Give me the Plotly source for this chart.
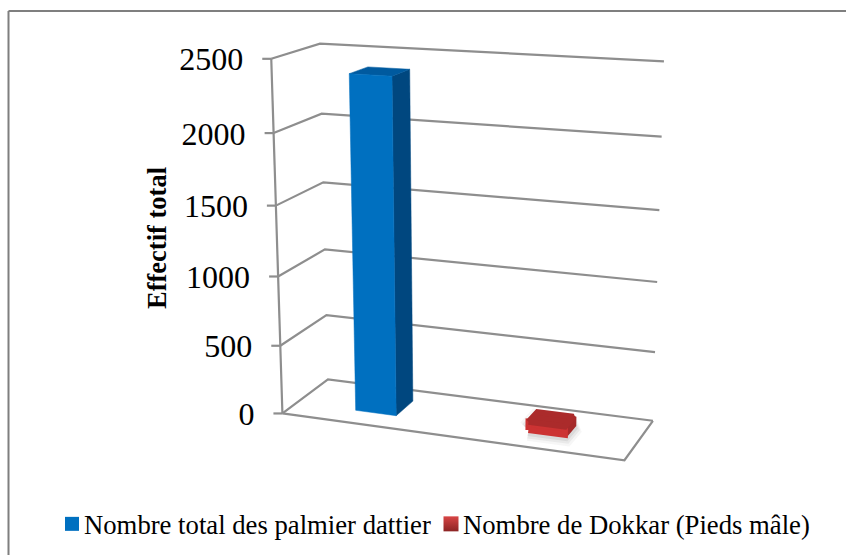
import numpy as np
import plotly.graph_objects as go

# ---- data ----
series_names = ["Nombre total des palmier dattier", "Nombre de Dokkar (Pieds mâle)"]
series_values = [2390, 60]
tick_values = [0, 500, 1000, 1500, 2000, 2500]
axis_title = "Effectif total"
value_max = 2500

# ---- 3-D view: box corners (side, depth, value share) and where they appear ----
view_points = [
    (0, 0, 0, 282, 414.5), (0, 0, .2, 281, 345.7), (0, 0, .4, 278.5, 275), (0, 0, .6, 276, 205.7),
    (0, 0, .8, 273.5, 133), (0, 0, 1, 270.7, 59.3),
    (0, 1, 0, 327.7, 379.3), (0, 1, .2, 326.5, 315), (0, 1, .6, 323.5, 182), (0, 1, .8, 321.5, 114),
    (0, 1, 1, 320, 43.7),
    (1, 1, 0, 652.7, 420.7), (1, 1, .2, 655, 352), (1, 1, .4, 657, 282), (1, 1, .6, 660, 210),
    (1, 1, .8, 661.5, 138), (1, 1, 1, 664, 60.5),
    (1, 0, 0, 624.3, 460.3),
]
rows, rhs = [], []
for X, D, V, u, w in view_points:
    rows.append([X, D, V, 1, 0, 0, 0, 0, -u * X, -u * D, -u * V]); rhs.append(u)
    rows.append([0, 0, 0, 0, X, D, V, 1, -w * X, -w * D, -w * V]); rhs.append(w)
P = np.linalg.lstsq(np.array(rows, float), np.array(rhs, float), rcond=None)[0]


def proj(X, D, value):
    V = value / value_max
    h = P[8] * X + P[9] * D + P[10] * V + 1
    return ((P[0] * X + P[1] * D + P[2] * V + P[3]) / h,
            (P[4] * X + P[5] * D + P[6] * V + P[7]) / h)


def path(points):
    xy = [proj(*p) for p in points]
    return [a for a, _ in xy], [b for _, b in xy]


fig = go.Figure()
GRID = "#8e8e8e"


def line(points, color=GRID, width=2.2):
    x, y = path(points)
    fig.add_trace(go.Scatter(x=x, y=y, mode="lines", line=dict(color=color, width=width),
                             showlegend=False, hoverinfo="skip", cliponaxis=False))


def face(points, color, lw=0.5, linecolor=None):
    x, y = path(points + points[:1])
    fig.add_trace(go.Scatter(x=x, y=y, mode="lines", fill="toself", fillcolor=color,
                             line=dict(color=linecolor or color, width=lw),
                             showlegend=False, hoverinfo="skip", cliponaxis=False))


# walls and floor
for v in tick_values:
    line([(0, 0, v), (0, 1, v), (1, 1, v)])
line([(0, 0, 0), (0, 0, value_max)])
line([(0, 0, 0), (1, 0, 0), (1, 1, 0)])

# tick marks and tick labels
x0, y0 = zip(*[proj(0, 0, v) for v in tick_values])
for v, a, b in zip(tick_values, x0, y0):
    fig.add_trace(go.Scatter(x=[a - 9, a], y=[b, b], mode="lines", line=dict(color=GRID, width=2.2),
                             showlegend=False, hoverinfo="skip", cliponaxis=False))
fig.add_trace(go.Scatter(x=[a - 28 for a in x0], y=[b + 3.5 for b in y0], mode="text",
                         text=[str(v) for v in tick_values], textposition="middle left",
                         textfont=dict(family="Liberation Serif", size=32, color="#000000"),
                         showlegend=False, hoverinfo="skip", cliponaxis=False))

# blue column
xa, xb, da, db = 0.185, 0.31, 0.31, 0.72
h = series_values[0]
face([(xb, da, 0), (xb, db, 0), (xb, db, h), (xb, da, h)], "#00477f")
face([(xa, da, h), (xb, da, h), (xb, db, h), (xa, db, h)], "#005a9f")
face([(xa, da, 0), (xb, da, 0), (xb, da, h), (xa, da, h)], "#0070c0")

# red column with its soft shadow
xa, xb, da, db = 0.695, 0.80, 0.39, 0.65
h = series_values[1]
floor = [(xa, da, 0), (xb, da, 0), (xb, db, 0), (xa, db, 0)]
for w, alpha in [(22, .05), (17, .07), (12, .09)]:
    face(floor, "rgba(70,70,70,%.2f)" % alpha, lw=w, linecolor="rgba(70,70,70,%.2f)" % alpha)
face([(xb, da, 0), (xb, db, 0), (xb, db, h), (xb, da, h)], "#a52a2a", lw=6)
face([(xa, da, 0), (xb, da, 0), (xb, da, h), (xa, da, h)], "#cc3333", lw=6)
face([(xa, da, h), (xb, da, h), (xb, db, h), (xa, db, h)], "#ab2b2b", lw=6)

# legend entries
fig.add_trace(go.Scatter(x=[None], y=[None], mode="markers", name=series_names[0],
                         marker=dict(symbol="square", size=14, color="#0070c0")))
fig.add_trace(go.Scatter(x=[None], y=[None], mode="markers", name=series_names[1],
                         marker=dict(symbol="square", size=15, color="#d84545",
                                     gradient=dict(type="vertical", color="#8c2424"))))

# chart frame (top and left edges only)
fig.add_shape(type="line", xref="paper", yref="paper", x0=8.5 / 846, x1=1, y0=1 - 11 / 555, y1=1 - 11 / 555,
              line=dict(color="#7f7f7f", width=2))
fig.add_shape(type="line", xref="paper", yref="paper", x0=8.5 / 846, x1=8.5 / 846, y0=0, y1=1 - 11 / 555,
              line=dict(color="#7f7f7f", width=2))

fig.add_annotation(text="<b>%s</b>" % axis_title, x=157, y=238, xref="x", yref="y", textangle=-90,
                   showarrow=False, font=dict(family="Liberation Serif", size=26.5, color="#000000"))

fig.update_layout(
    width=846, height=555, margin=dict(l=0, r=0, t=0, b=0),
    paper_bgcolor="#ffffff", plot_bgcolor="#ffffff",
    xaxis=dict(range=[0, 846], visible=False, fixedrange=True),
    yaxis=dict(range=[555, 0], visible=False, fixedrange=True),
    font=dict(family="Liberation Serif", color="#000000"),
    legend=dict(orientation="h", x=44 / 846, y=1 - 524 / 555, xanchor="left", yanchor="middle",
                font=dict(family="Liberation Serif", size=26.7), bgcolor="rgba(0,0,0,0)",
                itemwidth=30, entrywidth=334, entrywidthmode="pixels"),
)
fig.write_html("out.html", config={"displayModeBar": False}, post_script=(
    "document.body.style.margin='0';"
    "document.querySelectorAll('.legendsymbols').forEach(function(g){g.setAttribute('transform','translate(8,0)');});"
    "document.querySelectorAll('.legend .scrollbox').forEach(function(g){g.removeAttribute('clip-path');g.style.clipPath='none';});"
))
